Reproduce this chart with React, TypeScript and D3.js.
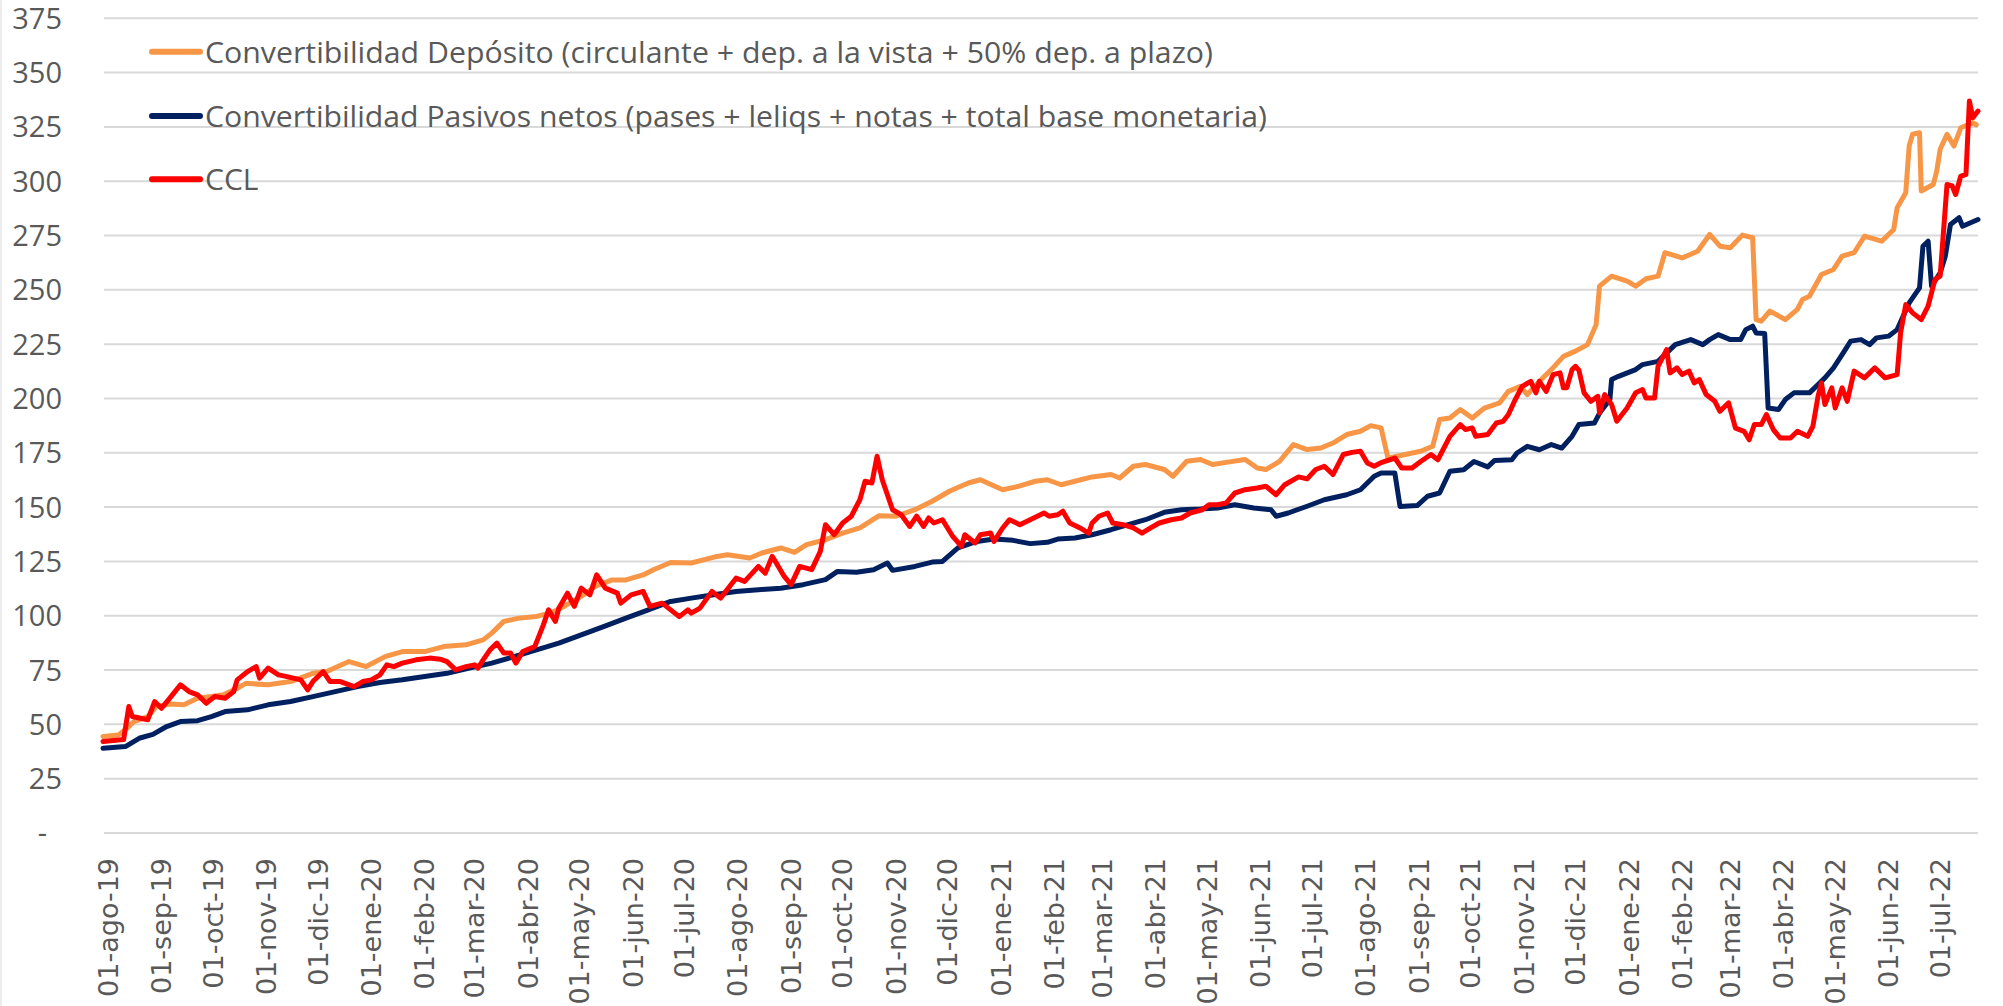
import React from "react";
import * as d3 from "d3";

const W = 2003;
const H = 1006;

// ---------- data ----------
const mesesAbrev = ["ene", "feb", "mar", "abr", "may", "jun", "jul", "ago", "sep", "oct", "nov", "dic"];
const yTicks = [0, 25, 50, 75, 100, 125, 150, 175, 200, 225, 250, 275, 300, 325, 350, 375];
const serieNombres = [
  "Convertibilidad Depósito (circulante + dep. a la vista + 50% dep. a plazo)",
  "Convertibilidad Pasivos netos (pases + leliqs + notas + total base monetaria)",
  "CCL",
];
const serieColores = ["#F79646", "#002060", "#FF0000"];

const depositos: [string, number][] = [
  ["2019-07-29", 44.4], ["2019-08-07", 45.1], ["2019-08-12", 48.2], ["2019-08-16", 51.3], ["2019-08-24", 53.6],
  ["2019-08-29", 58.2], ["2019-09-06", 59.4], ["2019-09-14", 59.0], ["2019-09-22", 62.0], ["2019-09-30", 62.8],
  ["2019-10-07", 63.6], ["2019-10-15", 66.6], ["2019-10-20", 68.9], ["2019-11-02", 68.2], ["2019-11-15", 69.7],
  ["2019-11-28", 73.5], ["2019-12-06", 74.3], ["2019-12-19", 78.9], ["2019-12-29", 76.6], ["2020-01-09", 81.2],
  ["2020-01-19", 83.5], ["2020-02-01", 83.5], ["2020-02-12", 85.8], ["2020-02-25", 86.6], ["2020-03-06", 88.9],
  ["2020-03-11", 92.0], ["2020-03-18", 97.4], ["2020-03-27", 98.9], ["2020-04-06", 99.7], ["2020-04-14", 101.2],
  ["2020-04-22", 104.3], ["2020-05-02", 108.9], ["2020-05-10", 113.5], ["2020-05-20", 116.5], ["2020-05-28", 116.5],
  ["2020-06-07", 118.8], ["2020-06-13", 121.2], ["2020-06-23", 124.5], ["2020-07-05", 124.3], ["2020-07-20", 127.3],
  ["2020-07-26", 128.1], ["2020-08-08", 126.6], ["2020-08-15", 128.9], ["2020-08-26", 131.2], ["2020-09-03", 129.2],
  ["2020-09-10", 132.7], ["2020-09-21", 135.0], ["2020-10-01", 138.0], ["2020-10-11", 140.4], ["2020-10-22", 146.0],
  ["2020-11-01", 145.8], ["2020-11-12", 148.8], ["2020-11-22", 152.7], ["2020-12-02", 157.3], ["2020-12-13", 161.1],
  ["2020-12-20", 162.6], ["2021-01-02", 158.0], ["2021-01-10", 159.3], ["2021-01-21", 161.9], ["2021-01-28", 162.6],
  ["2021-02-05", 160.3], ["2021-02-13", 161.9], ["2021-02-23", 163.9], ["2021-03-06", 165.0], ["2021-03-11", 163.4],
  ["2021-03-19", 168.8], ["2021-03-26", 169.6], ["2021-04-06", 167.3], ["2021-04-11", 164.2], ["2021-04-19", 171.1],
  ["2021-04-27", 171.9], ["2021-05-04", 169.6], ["2021-05-12", 170.6], ["2021-05-23", 171.9], ["2021-05-30", 168.0],
  ["2021-06-04", 167.3], ["2021-06-12", 171.1], ["2021-06-20", 178.8], ["2021-06-28", 176.5], ["2021-07-06", 177.2],
  ["2021-07-13", 179.5], ["2021-07-21", 183.4], ["2021-07-29", 184.9], ["2021-08-04", 187.5], ["2021-08-10", 186.5],
  ["2021-08-14", 172.5], ["2021-08-24", 174.2], ["2021-09-02", 175.7], ["2021-09-09", 178.0], ["2021-09-13", 190.3],
  ["2021-09-19", 191.0], ["2021-09-25", 194.9], ["2021-10-02", 191.0], ["2021-10-09", 195.6], ["2021-10-18", 198.0],
  ["2021-10-23", 203.3], ["2021-10-30", 205.6], ["2021-11-03", 201.8], ["2021-11-10", 207.9], ["2021-11-17", 213.3],
  ["2021-11-24", 219.4], ["2021-12-01", 221.8], ["2021-12-08", 224.8], ["2021-12-13", 234.0], ["2021-12-15", 251.7],
  ["2021-12-22", 256.3], ["2021-12-31", 254.0], ["2022-01-05", 251.7], ["2022-01-11", 255.1], ["2022-01-18", 256.3],
  ["2022-01-22", 267.1], ["2022-02-01", 264.7], ["2022-02-10", 267.8], ["2022-02-17", 275.5], ["2022-02-23", 270.1],
  ["2022-03-01", 269.4], ["2022-03-08", 275.2], ["2022-03-14", 274.0], ["2022-03-16", 236.3], ["2022-03-19", 235.6],
  ["2022-03-24", 240.2], ["2022-04-02", 236.3], ["2022-04-09", 241.0], ["2022-04-12", 245.6], ["2022-04-16", 247.1],
  ["2022-04-23", 257.1], ["2022-04-30", 259.4], ["2022-05-05", 265.5], ["2022-05-12", 267.1], ["2022-05-18", 274.7],
  ["2022-05-28", 272.4], ["2022-06-04", 277.8], ["2022-06-06", 287.8], ["2022-06-11", 294.7], ["2022-06-13", 316.2],
  ["2022-06-15", 321.6], ["2022-06-19", 322.3], ["2022-06-20", 295.5], ["2022-06-27", 298.5], ["2022-06-29", 304.7],
  ["2022-07-01", 314.7], ["2022-07-05", 321.6], ["2022-07-09", 316.2], ["2022-07-13", 324.6], ["2022-07-20", 326.9],
  ["2022-07-22", 326.0],
];

const pasivos: [string, number][] = [
  ["2019-07-29", 39.0], ["2019-08-11", 39.8], ["2019-08-19", 43.6], ["2019-08-27", 45.4], ["2019-09-04", 49.0],
  ["2019-09-12", 51.3], ["2019-09-22", 51.7], ["2019-09-30", 53.6], ["2019-10-08", 55.9], ["2019-10-21", 56.7],
  ["2019-11-02", 59.0], ["2019-11-15", 60.5], ["2019-11-28", 62.8], ["2019-12-11", 65.1], ["2019-12-24", 67.4],
  ["2020-01-06", 69.3], ["2020-01-19", 70.5], ["2020-02-01", 72.0], ["2020-02-14", 73.5], ["2020-02-27", 75.9],
  ["2020-03-11", 78.2], ["2020-03-24", 81.2], ["2020-04-06", 84.3], ["2020-04-19", 87.4], ["2020-05-02", 91.2],
  ["2020-05-15", 95.0], ["2020-05-28", 98.9], ["2020-06-10", 102.7], ["2020-06-23", 106.6], ["2020-07-05", 108.1],
  ["2020-07-18", 109.7], ["2020-07-31", 111.2], ["2020-08-13", 112.0], ["2020-08-26", 112.7], ["2020-09-08", 114.3],
  ["2020-09-21", 116.6], ["2020-09-28", 120.4], ["2020-10-09", 120.0], ["2020-10-19", 121.2], ["2020-10-27", 124.3],
  ["2020-10-30", 120.9], ["2020-11-12", 122.7], ["2020-11-22", 124.7], ["2020-11-28", 125.0], ["2020-12-07", 131.2],
  ["2020-12-18", 134.2], ["2020-12-28", 135.3], ["2021-01-08", 134.7], ["2021-01-18", 133.2], ["2021-01-28", 133.8],
  ["2021-02-03", 135.3], ["2021-02-13", 135.8], ["2021-02-23", 137.3], ["2021-03-06", 139.6], ["2021-03-16", 141.9],
  ["2021-03-26", 144.2], ["2021-04-06", 147.6], ["2021-04-16", 148.8], ["2021-04-27", 149.1], ["2021-05-07", 149.6],
  ["2021-05-17", 151.1], ["2021-05-28", 149.6], ["2021-06-07", 148.8], ["2021-06-10", 145.8], ["2021-06-17", 147.3],
  ["2021-06-28", 150.4], ["2021-07-08", 153.4], ["2021-07-21", 155.7], ["2021-07-29", 158.0], ["2021-08-06", 164.2],
  ["2021-08-10", 165.7], ["2021-08-18", 165.7], ["2021-08-21", 150.3], ["2021-08-31", 150.7], ["2021-09-06", 155.0],
  ["2021-09-13", 156.5], ["2021-09-19", 166.5], ["2021-09-27", 167.2], ["2021-10-03", 171.0], ["2021-10-11", 168.5],
  ["2021-10-15", 171.5], ["2021-10-25", 171.8], ["2021-10-28", 174.9], ["2021-11-03", 178.0], ["2021-11-10", 176.4],
  ["2021-11-17", 178.8], ["2021-11-23", 177.2], ["2021-11-29", 182.6], ["2021-12-03", 188.0], ["2021-12-12", 188.7],
  ["2021-12-15", 193.3], ["2021-12-21", 199.5], ["2021-12-22", 208.7], ["2021-12-26", 210.2], ["2022-01-05", 213.3],
  ["2022-01-09", 215.6], ["2022-01-18", 217.1], ["2022-01-23", 221.0], ["2022-01-28", 224.8], ["2022-02-06", 227.1],
  ["2022-02-13", 224.8], ["2022-02-17", 227.1], ["2022-02-22", 229.4], ["2022-03-01", 227.1], ["2022-03-07", 227.1],
  ["2022-03-10", 231.7], ["2022-03-14", 233.3], ["2022-03-16", 230.2], ["2022-03-21", 229.9], ["2022-03-23", 195.6],
  ["2022-03-29", 194.9], ["2022-04-02", 199.5], ["2022-04-07", 202.6], ["2022-04-16", 202.6], ["2022-04-21", 206.4],
  ["2022-04-25", 209.5], ["2022-04-30", 214.1], ["2022-05-05", 220.2], ["2022-05-10", 226.4], ["2022-05-16", 227.1],
  ["2022-05-21", 224.8], ["2022-05-25", 227.9], ["2022-06-01", 228.7], ["2022-06-06", 231.7], ["2022-06-13", 244.0],
  ["2022-06-19", 250.9], ["2022-06-21", 270.1], ["2022-06-24", 272.4], ["2022-06-26", 251.7], ["2022-07-01", 257.8],
  ["2022-07-04", 265.5], ["2022-07-07", 280.1], ["2022-07-12", 283.2], ["2022-07-14", 279.3], ["2022-07-23", 282.4],
];

const ccl: [string, number][] = [
  ["2019-07-29", 42.1], ["2019-08-07", 42.8], ["2019-08-10", 43.0], ["2019-08-13", 58.2], ["2019-08-15", 53.6],
  ["2019-08-24", 52.1], ["2019-08-28", 60.5], ["2019-09-01", 57.4], ["2019-09-05", 61.3], ["2019-09-12", 68.2],
  ["2019-09-17", 65.1], ["2019-09-22", 63.6], ["2019-09-27", 59.7], ["2019-10-02", 62.8], ["2019-10-08", 62.0],
  ["2019-10-13", 65.1], ["2019-10-15", 70.5], ["2019-10-21", 74.3], ["2019-10-26", 76.6], ["2019-10-28", 71.3],
  ["2019-11-02", 75.9], ["2019-11-08", 72.8], ["2019-11-13", 72.0], ["2019-11-21", 70.5], ["2019-11-25", 65.9],
  ["2019-11-28", 69.7], ["2019-12-04", 74.3], ["2019-12-08", 69.7], ["2019-12-14", 69.7], ["2019-12-22", 67.4],
  ["2019-12-27", 69.7], ["2020-01-01", 70.5], ["2020-01-06", 72.8], ["2020-01-10", 77.4], ["2020-01-14", 76.6],
  ["2020-01-19", 78.2], ["2020-01-27", 79.7], ["2020-02-04", 80.5], ["2020-02-10", 80.0], ["2020-02-14", 78.9],
  ["2020-02-19", 75.1], ["2020-02-25", 76.6], ["2020-03-01", 77.4], ["2020-03-03", 75.9], ["2020-03-06", 79.7],
  ["2020-03-10", 84.3], ["2020-03-14", 87.4], ["2020-03-18", 82.8], ["2020-03-22", 82.8], ["2020-03-25", 78.2],
  ["2020-03-29", 83.5], ["2020-04-05", 85.8], ["2020-04-10", 95.8], ["2020-04-13", 102.7], ["2020-04-17", 97.4],
  ["2020-04-19", 103.5], ["2020-04-24", 110.4], ["2020-04-28", 104.3], ["2020-05-02", 112.7], ["2020-05-07", 109.6],
  ["2020-05-11", 118.8], ["2020-05-16", 112.7], ["2020-05-23", 110.4], ["2020-05-25", 105.8], ["2020-05-31", 109.6],
  ["2020-06-07", 111.2], ["2020-06-11", 104.3], ["2020-06-18", 105.8], ["2020-06-23", 102.7], ["2020-06-28", 99.6],
  ["2020-07-03", 102.7], ["2020-07-05", 101.2], ["2020-07-10", 103.5], ["2020-07-17", 111.2], ["2020-07-22", 108.1],
  ["2020-07-31", 117.3], ["2020-08-05", 115.8], ["2020-08-13", 122.7], ["2020-08-17", 119.6], ["2020-08-21", 127.3],
  ["2020-08-24", 123.5], ["2020-08-28", 118.1], ["2020-09-01", 114.3], ["2020-09-06", 122.7], ["2020-09-13", 121.2],
  ["2020-09-18", 129.6], ["2020-09-21", 141.9], ["2020-09-26", 137.3], ["2020-10-01", 142.7], ["2020-10-06", 145.8],
  ["2020-10-11", 153.4], ["2020-10-14", 161.9], ["2020-10-18", 161.1], ["2020-10-21", 173.4], ["2020-10-24", 162.6],
  ["2020-10-30", 148.8], ["2020-11-04", 146.5], ["2020-11-09", 141.1], ["2020-11-13", 145.8], ["2020-11-17", 141.1],
  ["2020-11-20", 145.0], ["2020-11-23", 142.7], ["2020-11-28", 144.2], ["2020-12-04", 136.5], ["2020-12-09", 131.9],
  ["2020-12-11", 137.3], ["2020-12-17", 133.5], ["2020-12-20", 137.3], ["2020-12-26", 138.1], ["2020-12-28", 134.2],
  ["2021-01-02", 140.4], ["2021-01-06", 144.2], ["2021-01-12", 141.9], ["2021-01-18", 144.2], ["2021-01-26", 147.3],
  ["2021-01-29", 145.8], ["2021-02-03", 146.5], ["2021-02-06", 148.1], ["2021-02-10", 142.7], ["2021-02-16", 140.4],
  ["2021-02-21", 138.0], ["2021-02-23", 142.7], ["2021-02-27", 145.8], ["2021-03-04", 147.3], ["2021-03-07", 142.7],
  ["2021-03-13", 141.9], ["2021-03-19", 140.4], ["2021-03-24", 138.0], ["2021-03-29", 140.4], ["2021-04-03", 142.7],
  ["2021-04-10", 144.2], ["2021-04-16", 145.0], ["2021-04-21", 147.3], ["2021-04-28", 148.8], ["2021-05-02", 151.1],
  ["2021-05-07", 151.1], ["2021-05-12", 151.9], ["2021-05-17", 156.5], ["2021-05-23", 158.0], ["2021-05-30", 158.8],
  ["2021-06-04", 159.6], ["2021-06-10", 155.7], ["2021-06-15", 160.3], ["2021-06-23", 163.9], ["2021-06-28", 163.0],
  ["2021-07-03", 167.3], ["2021-07-08", 168.8], ["2021-07-13", 165.0], ["2021-07-19", 174.2], ["2021-07-24", 175.2],
  ["2021-07-29", 175.7], ["2021-08-02", 170.3], ["2021-08-06", 168.8], ["2021-08-10", 170.5], ["2021-08-18", 172.6],
  ["2021-08-22", 168.0], ["2021-08-28", 168.0], ["2021-09-02", 171.0], ["2021-09-08", 174.2], ["2021-09-12", 171.8],
  ["2021-09-19", 182.6], ["2021-09-25", 188.0], ["2021-09-28", 185.7], ["2021-10-02", 186.4], ["2021-10-04", 182.6],
  ["2021-10-11", 183.4], ["2021-10-16", 188.7], ["2021-10-20", 189.5], ["2021-10-23", 192.6], ["2021-10-27", 199.5],
  ["2021-10-31", 205.6], ["2021-11-05", 207.9], ["2021-11-08", 202.6], ["2021-11-10", 207.9], ["2021-11-14", 203.3],
  ["2021-11-18", 211.0], ["2021-11-22", 211.8], ["2021-11-24", 204.9], ["2021-11-26", 205.0], ["2021-11-29", 213.3],
  ["2021-12-01", 214.8], ["2021-12-03", 213.0], ["2021-12-06", 202.6], ["2021-12-10", 198.7], ["2021-12-14", 201.0],
  ["2021-12-15", 193.3], ["2021-12-18", 201.8], ["2021-12-22", 197.2], ["2021-12-25", 189.5], ["2021-12-31", 195.6],
  ["2022-01-05", 202.6], ["2022-01-09", 204.1], ["2022-01-11", 200.2], ["2022-01-16", 200.2], ["2022-01-18", 214.8],
  ["2022-01-23", 222.5], ["2022-01-25", 211.8], ["2022-01-29", 214.1], ["2022-02-01", 211.0], ["2022-02-05", 212.6],
  ["2022-02-08", 207.2], ["2022-02-11", 208.7], ["2022-02-15", 201.8], ["2022-02-20", 198.7], ["2022-02-23", 194.1],
  ["2022-02-28", 198.0], ["2022-03-04", 186.4], ["2022-03-09", 184.9], ["2022-03-12", 181.0], ["2022-03-15", 188.0],
  ["2022-03-19", 188.0], ["2022-03-22", 192.6], ["2022-03-26", 185.7], ["2022-03-30", 181.8], ["2022-04-05", 181.8],
  ["2022-04-09", 184.9], ["2022-04-15", 182.6], ["2022-04-18", 187.2], ["2022-04-21", 201.0], ["2022-04-23", 207.2],
  ["2022-04-25", 197.2], ["2022-04-29", 204.9], ["2022-05-01", 195.6], ["2022-05-05", 204.9], ["2022-05-08", 198.7],
  ["2022-05-12", 212.6], ["2022-05-18", 209.5], ["2022-05-24", 214.1], ["2022-05-30", 209.5], ["2022-06-06", 211.0],
  ["2022-06-08", 230.2], ["2022-06-11", 243.2], ["2022-06-15", 239.4], ["2022-06-20", 236.3], ["2022-06-24", 242.5],
  ["2022-06-28", 254.8], ["2022-07-01", 256.3], ["2022-07-05", 298.5], ["2022-07-08", 297.8], ["2022-07-10", 293.9],
  ["2022-07-13", 302.4], ["2022-07-16", 303.1], ["2022-07-18", 336.9], ["2022-07-20", 329.2], ["2022-07-23", 332.3],
];

const series = [depositos, pasivos, ccl];

// ---------- layout ----------
const plotLeft = 103;
const plotRight = 1978;
const plotTop = 18.3;
const plotBottom = 833;

const parse = d3.timeParse("%Y-%m-%d");

export default function App() {
  const x = d3
    .scaleTime()
    .domain([parse("2019-07-29") as Date, parse("2022-07-23") as Date])
    .range([plotLeft, plotRight]);
  const y = d3.scaleLinear().domain([0, 375]).range([plotBottom, plotTop]);

  const line = d3
    .line<[string, number]>()
    .x((d) => x(parse(d[0]) as Date))
    .y((d) => y(d[1]));

  const monthTicks = d3.timeMonth.range(new Date(2019, 7, 1), new Date(2022, 7, 1));
  const fmtTick = (d: Date) =>
    `01-${mesesAbrev[d.getMonth()]}-${String(d.getFullYear() % 100).padStart(2, "0")}`;

  const legendY = [51.7, 116, 179.3];
  const legendLen = [1008, 1062, null];

  return (
    <svg
      width={W}
      height={H}
      viewBox={`0 0 ${W} ${H}`}
      style={{ position: "absolute", left: 0, top: 0, background: "#ffffff" }}
    >
      <rect x={0} y={0} width={W} height={H} fill="#ffffff" />
      <line x1={1} x2={1} y1={0} y2={H} stroke="#ececec" strokeWidth={2} />

      {/* gridlines */}
      {yTicks.map((t) => (
        <line
          key={"g" + t}
          x1={plotLeft + 1}
          x2={plotRight}
          y1={y(t)}
          y2={y(t)}
          stroke="#d9d9d9"
          strokeWidth={2}
        />
      ))}

      {/* y labels */}
      {yTicks.map((t) => (
        <text
          key={"yl" + t}
          x={t === 0 ? 47 : 62}
          y={y(t)}
          dy="0.36em"
          textAnchor="end"
          fontFamily="'Open Sans', sans-serif"
          fontSize={29}
          fill="#595959"
        >
          {t === 0 ? "-" : t}
        </text>
      ))}

      {/* x labels */}
      {monthTicks.map((d) => (
        <text
          key={"xl" + d.getTime()}
          transform={`translate(${x(d)},858) rotate(-90)`}
          dy="0.36em"
          textAnchor="end"
          fontFamily="'DejaVu Sans', sans-serif"
          fontSize={27}
          fill="#595959"
        >
          {fmtTick(d)}
        </text>
      ))}

      {/* series */}
      {series.map((s, i) => (
        <path
          key={"s" + i}
          d={line(s) || ""}
          fill="none"
          stroke={serieColores[i]}
          strokeWidth={5}
          strokeLinejoin="round"
          strokeLinecap="round"
        />
      ))}

      {/* legend */}
      {serieNombres.map((n, i) => (
        <g key={"lg" + i}>
          <line
            x1={152}
            x2={200}
            y1={legendY[i]}
            y2={legendY[i]}
            stroke={serieColores[i]}
            strokeWidth={6}
            strokeLinecap="round"
          />
          <text
            x={205}
            y={legendY[i]}
            dy="0.36em"
            fontFamily="'Open Sans', sans-serif"
            fontSize={30}
            fill="#595959"
            {...(legendLen[i] ? { textLength: legendLen[i] as number, lengthAdjust: "spacingAndGlyphs" } : {})}
          >
            {n}
          </text>
        </g>
      ))}
    </svg>
  );
}
